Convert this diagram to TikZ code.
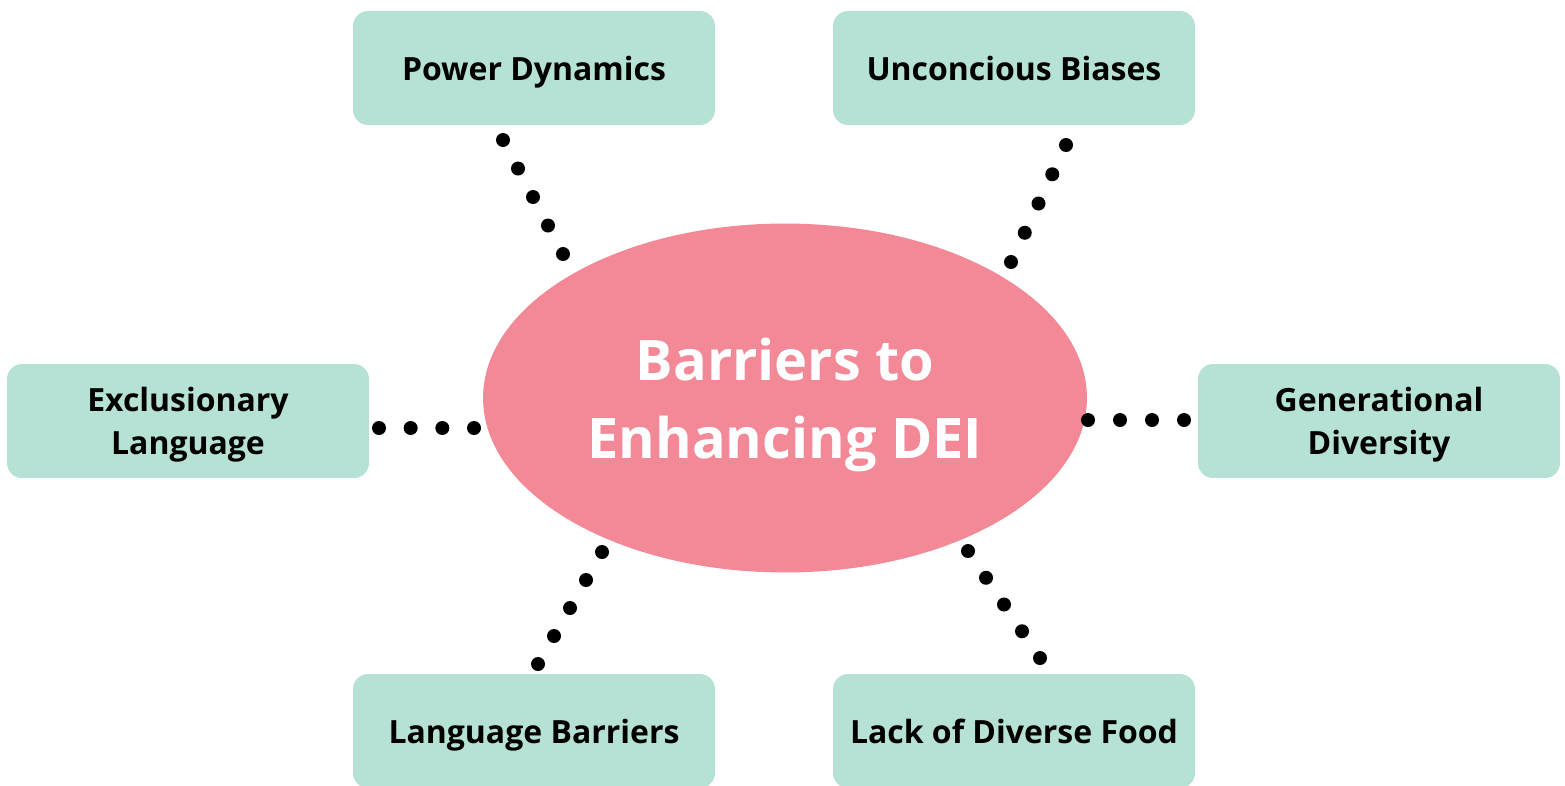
\documentclass[tikz,border=0pt]{standalone}
\usepackage{fontspec}
\setmainfont{Open Sans}
\usetikzlibrary{calc,shapes.geometric}

\definecolor{mint}{HTML}{B5E2D4}
\definecolor{rose}{HTML}{F38896}

\begin{document}
\begin{tikzpicture}[x=0.02cm, y=-0.02cm,
        barrier/.style={fill=mint, rounded corners=0.3cm, minimum width=7.24cm,
            minimum height=2.28cm, align=center, inner sep=0pt, text depth=0pt,
            font=\fontsize{18.2}{24.4}\selectfont\bfseries},
        hubnode/.style={ellipse, fill=rose, minimum width=12.08cm, minimum height=6.98cm,
            inner sep=0pt, align=center, text=white, text depth=0pt,
            font=\fontsize{31.8}{44.3}\selectfont\bfseries}]
        \useasboundingbox (0,0) rectangle (1565,785);

        % centre
        \node[hubnode] (hub) at (785,398) {Barriers to\\Enhancing DEI};

        % barriers
        \node[barrier] (power) at (534,68) {Power Dynamics};
        \node[barrier] (bias) at (1014,68) {Unconcious Biases};
        \node[barrier] (excl) at (188,421) {Exclusionary\\Language};
        \node[barrier] (gen) at (1379,421) {Generational\\Diversity};
        \node[barrier] (lang) at (534,731) {Language Barriers};
        \node[barrier] (food) at (1014,731) {Lack of Diverse Food};

        % ends of the dotted links
        \coordinate (power-a) at (503,140);  \coordinate (power-b) at (563,254);
        \coordinate (bias-a) at (1066,145);  \coordinate (bias-b) at (1011,262);
        \coordinate (excl-a) at (379,428);   \coordinate (excl-b) at (474,428);
        \coordinate (gen-a) at (1184,420);   \coordinate (gen-b) at (1088,420);
        \coordinate (lang-a) at (538,664);   \coordinate (lang-b) at (602,552);
        \coordinate (food-a) at (1040,658);  \coordinate (food-b) at (968,551);

        % dotted links
        \foreach \n/\k in {power/4, bias/4, excl/3, gen/3, lang/4, food/4} {
            \foreach \i in {0,...,\k} {
                \fill ($(\n-a)!\i/\k!(\n-b)$) circle (0.14cm);
            }
        }
    \end{tikzpicture}
\end{document}
